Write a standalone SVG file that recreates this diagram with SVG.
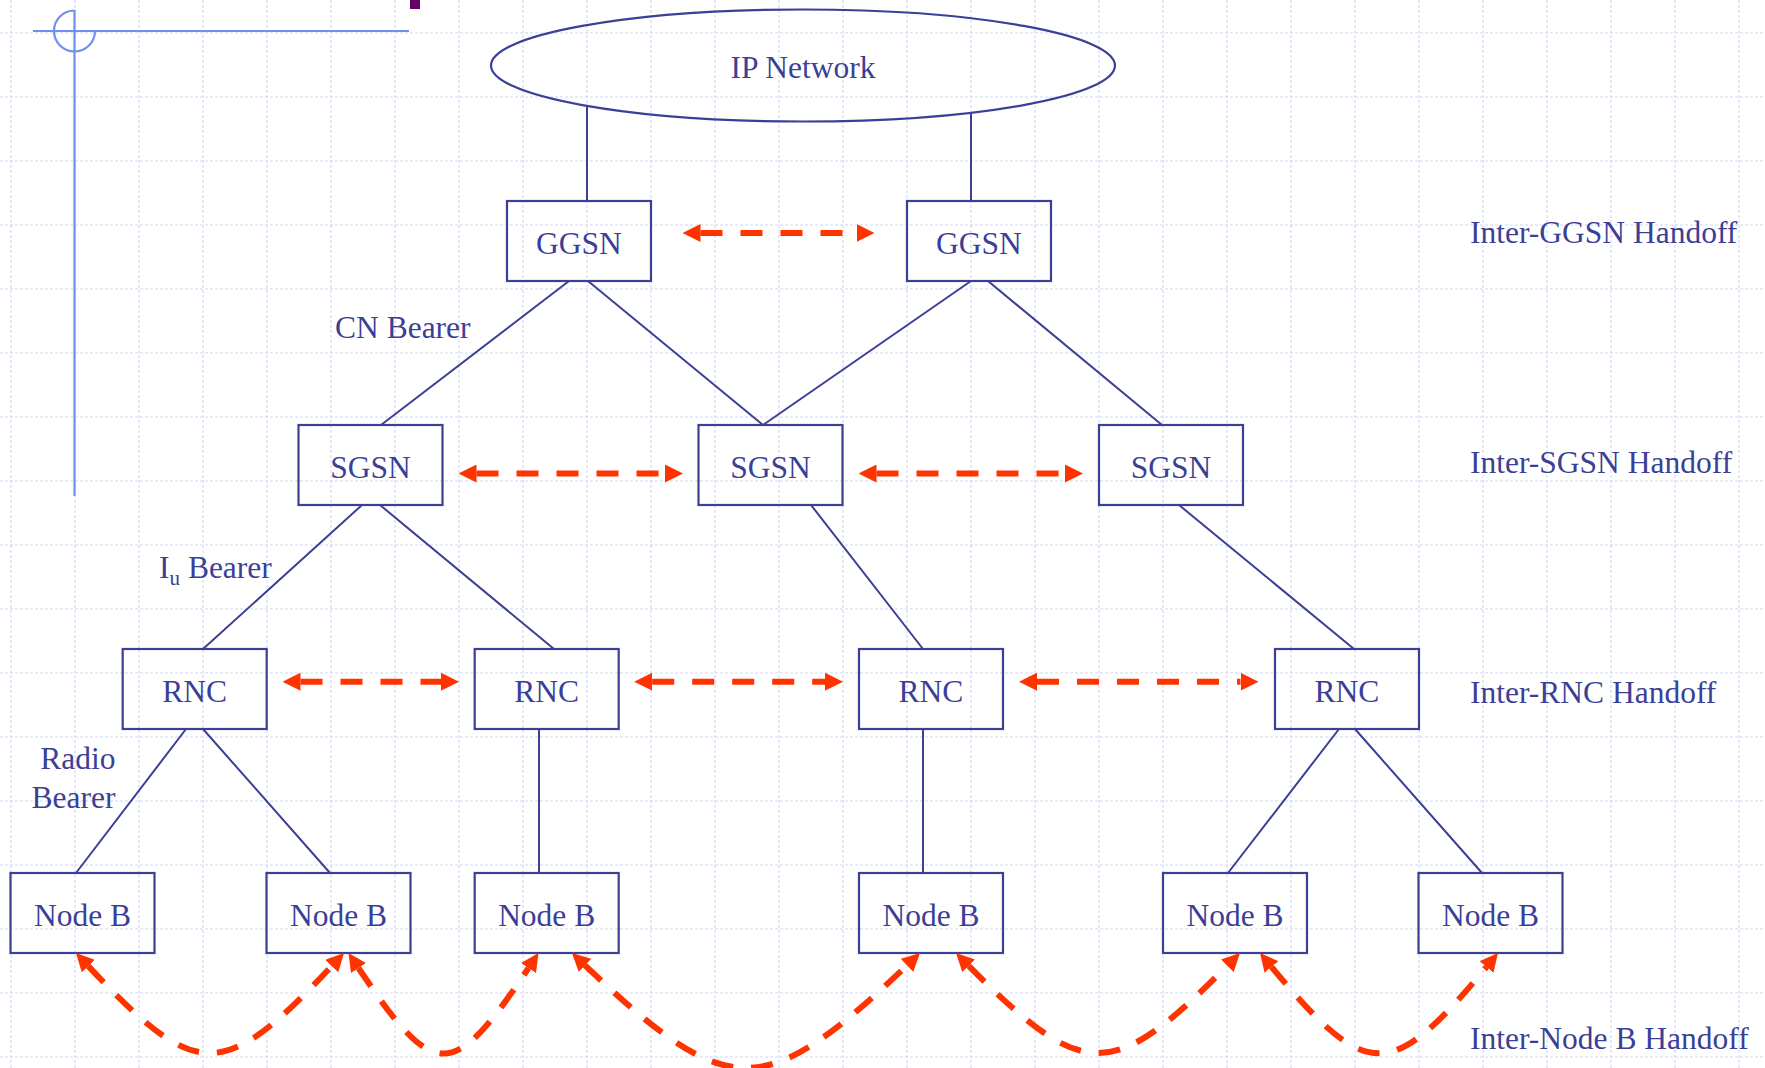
<svg xmlns="http://www.w3.org/2000/svg" width="1765" height="1068" viewBox="0 0 1765 1068">
<style>
.grid{fill:none;stroke:#cdd8f8;stroke-width:1.1;stroke-dasharray:3 2}
.deco{fill:none;stroke:#7090f0;stroke-width:2.2}
.box{fill:none;stroke:#3b3f96;stroke-width:2.2}
.link{fill:none;stroke:#3b3f96;stroke-width:2}
.ho{fill:none;stroke:#ff3300;stroke-width:6;stroke-dasharray:22 18;marker-start:url(#ah);marker-end:url(#ah)}
text{font-family:"Liberation Serif","Times New Roman",serif;font-size:31.5px;fill:#3b3f96}
.c{text-anchor:middle}
</style>
<defs>
<marker id="ah" viewBox="0 0 18 18" refX="0" refY="9" markerWidth="18" markerHeight="18" markerUnits="userSpaceOnUse" orient="auto-start-reverse">
<path d="M0,0 L18,9 L0,18 z" fill="#ff3300"/>
</marker>
</defs>
<rect x="0" y="0" width="1765" height="1068" fill="#ffffff"/>
<path class="grid" d="M0,33H1765M0,97H1765M0,161H1765M0,225H1765M0,289H1765M0,353H1765M0,417H1765M0,481H1765M0,545H1765M0,609H1765M0,673H1765M0,737H1765M0,801H1765M0,865H1765M0,929H1765M0,993H1765M0,1057H1765M11,0V1068M75,0V1068M139,0V1068M203,0V1068M267,0V1068M331,0V1068M395,0V1068M459,0V1068M523,0V1068M587,0V1068M651,0V1068M715,0V1068M779,0V1068M843,0V1068M907,0V1068M971,0V1068M1035,0V1068M1099,0V1068M1163,0V1068M1227,0V1068M1291,0V1068M1355,0V1068M1419,0V1068M1483,0V1068M1547,0V1068M1611,0V1068M1675,0V1068M1739,0V1068"/>
<g id="decoration">
<path class="deco" d="M33,31H409M74.5,10V496M74.5,10.5A20.5,20.5 0 1 0 95,31"/>
<rect x="410" y="0" width="10" height="9" fill="#660066"/>
</g>
<g id="connectors">
<path class="link" d="M587,106V201M971,112.7V201M569,281L381,425M588,281L763,425M971,281L763,425M988,281L1162,425M362,505L203,649M380,505L554,649M811,505L923,649M1179,505L1354,649M186,729L76,873M203,729L330,873M539,729V873M923,729V873M1339,729L1228,873M1355,729L1482,873"/>
</g>
<g id="ipnet"><ellipse class="box" cx="803" cy="65.5" rx="312" ry="56"/><text class="c" x="803" y="78">IP Network</text></g>
<g id="ggsn1"><rect class="box" x="507" y="201" width="144" height="80"/><text class="c" x="579" y="254">GGSN</text></g>
<g id="ggsn2"><rect class="box" x="907" y="201" width="144" height="80"/><text class="c" x="979" y="254">GGSN</text></g>
<g id="sgsn1"><rect class="box" x="298.5" y="425" width="144" height="80"/><text class="c" x="370.5" y="478">SGSN</text></g>
<g id="sgsn2"><rect class="box" x="698.5" y="425" width="144" height="80"/><text class="c" x="770.5" y="478">SGSN</text></g>
<g id="sgsn3"><rect class="box" x="1099" y="425" width="144" height="80"/><text class="c" x="1171" y="478">SGSN</text></g>
<g id="rnc1"><rect class="box" x="122.7" y="649" width="144" height="80"/><text class="c" x="194.7" y="701.7">RNC</text></g>
<g id="rnc2"><rect class="box" x="474.7" y="649" width="144" height="80"/><text class="c" x="546.7" y="701.7">RNC</text></g>
<g id="rnc3"><rect class="box" x="859" y="649" width="144" height="80"/><text class="c" x="931" y="701.7">RNC</text></g>
<g id="rnc4"><rect class="box" x="1275" y="649" width="144" height="80"/><text class="c" x="1347" y="701.7">RNC</text></g>
<g id="nodeb1"><rect class="box" x="10.5" y="873" width="144" height="80"/><text class="c" x="82.5" y="925.7">Node B</text></g>
<g id="nodeb2"><rect class="box" x="266.5" y="873" width="144" height="80"/><text class="c" x="338.5" y="925.7">Node B</text></g>
<g id="nodeb3"><rect class="box" x="474.7" y="873" width="144" height="80"/><text class="c" x="546.7" y="925.7">Node B</text></g>
<g id="nodeb4"><rect class="box" x="859" y="873" width="144" height="80"/><text class="c" x="931" y="925.7">Node B</text></g>
<g id="nodeb5"><rect class="box" x="1163" y="873" width="144" height="80"/><text class="c" x="1235" y="925.7">Node B</text></g>
<g id="nodeb6"><rect class="box" x="1418.5" y="873" width="144" height="80"/><text class="c" x="1490.5" y="925.7">Node B</text></g>
<g id="handoffs">
<path class="ho" d="M700.5,233H856.5"/>
<path class="ho" d="M476.5,473.5H665"/>
<path class="ho" d="M876.5,473.5H1065"/>
<path class="ho" d="M300.5,681.7H441"/>
<path class="ho" d="M652.2,681.7H825"/>
<path class="ho" d="M1037,681.7H1240.5"/>
<path class="ho" d="M88.3,966.1C197,1082 223,1082 331.7,966.1"/>
<path class="ho" d="M358.5,968C434.5,1082 452.5,1082 528.5,968"/>
<path class="ho" d="M585,965.4C729,1102 763,1102 907,965.4"/>
<path class="ho" d="M968.7,965.8C1084,1082 1112,1082 1227.3,965.8"/>
<path class="ho" d="M1271.5,966.9C1367,1082 1391,1082 1486.5,966.9"/>
</g>
<g id="labels">
<text x="335" y="338.3">CN Bearer</text>
<text x="159" y="578.3">I<tspan font-size="21" dy="7">u</tspan><tspan dy="-7"> Bearer</tspan></text>
<text x="115.5" y="769.3" text-anchor="end">Radio</text>
<text x="115.5" y="808.3" text-anchor="end">Bearer</text>
<text x="1470" y="242.5">Inter-GGSN Handoff</text>
<text x="1470" y="473">Inter-SGSN Handoff</text>
<text x="1470" y="702.5">Inter-RNC Handoff</text>
<text x="1470" y="1048.5">Inter-Node B Handoff</text>
</g>
</svg>
